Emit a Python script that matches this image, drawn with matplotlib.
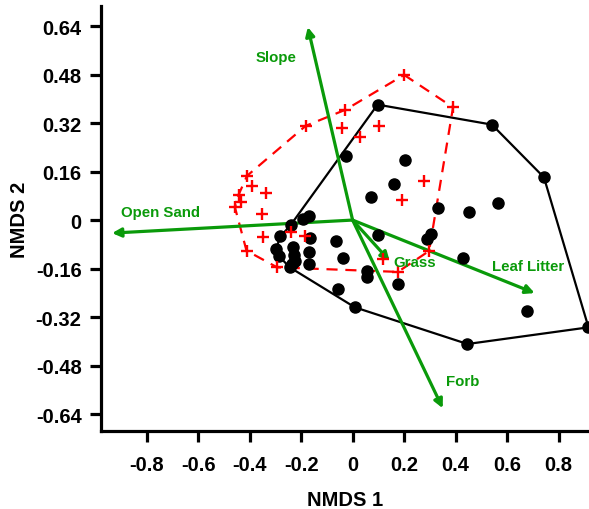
import numpy as np
import matplotlib
matplotlib.use('Agg')
import matplotlib.pyplot as plt

plt.rcParams['font.family'] = ['Liberation Sans', 'DejaVu Sans']
plt.rcParams['font.weight'] = 'bold'

# Gruppe 1 (schwarze Punkte)
grp1_x = [0.097, -0.026, 0.202, 0.161, 0.073, 0.332, 0.452, 0.566, 0.541, 0.743,
          -0.169, -0.194, -0.241, -0.280, -0.166, -0.065, 0.099, 0.306, 0.290, -0.298,
          -0.233, -0.228, -0.169, -0.285, -0.224, -0.039, -0.169, -0.237, -0.244, 0.429,
          0.054, 0.054, 0.178, -0.056, 0.009, 0.678, 0.446, 0.916]
grp1_y = [0.381, 0.212, 0.199, 0.119, 0.077, 0.039, 0.025, 0.055, 0.315, 0.141,
          0.014, 0.003, -0.017, -0.054, -0.060, -0.069, -0.048, -0.046, -0.061, -0.096,
          -0.090, -0.116, -0.105, -0.120, -0.134, -0.126, -0.145, -0.145, -0.156, -0.126,
          -0.167, -0.189, -0.212, -0.228, -0.288, -0.299, -0.409, -0.354]
grp1_hull = [0, 8, 9, 37, 36, 34, 28, 23, 19, 13, 12]

# Gruppe 2 (rote Kreuze)
grp2_x = [0.200, 0.390, -0.028, -0.182, -0.043, 0.102, 0.028, -0.410, -0.392, -0.336,
          -0.443, -0.435, -0.457, -0.351, 0.277, 0.190, -0.241, -0.347, -0.185, -0.412,
          -0.293, 0.176, 0.118, 0.297]
grp2_y = [0.479, 0.372, 0.364, 0.311, 0.304, 0.311, 0.275, 0.146, 0.111, 0.088,
          0.083, 0.060, 0.042, 0.020, 0.130, 0.066, -0.041, -0.055, -0.054, -0.101,
          -0.156, -0.171, -0.127, -0.102]
grp2_hull = [0, 1, 23, 21, 20, 19, 12, 10, 7, 3, 2]

# Umweltvektoren
env_names = ['Open Sand', 'Slope', 'Leaf Litter', 'Forb', 'Grass']
env_x = [-0.934, -0.174, 0.707, 0.350, 0.144]
env_y = [-0.043, 0.637, -0.241, -0.621, -0.135]
lab_x = [-0.747, -0.298, 0.680, 0.426, 0.241]
lab_y = [0.026, 0.538, -0.152, -0.530, -0.139]

xticks = [-0.8, -0.6, -0.4, -0.2, 0, 0.2, 0.4, 0.6, 0.8]
xtick_labels = ['-0.8', '-0.6', '-0.4', '-0.2', '0', '0.2', '0.4', '0.6', '0.8']
yticks = [-0.64, -0.48, -0.32, -0.16, 0, 0.16, 0.32, 0.48, 0.64]
ytick_labels = ['-0.64', '-0.48', '-0.32', '-0.16', '0', '0.16', '0.32', '0.48', '0.64']

green = '#0a9a0a'

fig = plt.figure(figsize=(5.89, 5.10), dpi=100)
ax = fig.add_axes([0.1715, 0.153, 0.8285, 0.833])

# Huellen
hx = np.array(grp1_x)[grp1_hull + grp1_hull[:1]]
hy = np.array(grp1_y)[grp1_hull + grp1_hull[:1]]
ax.plot(hx, hy, color='black', lw=1.6, zorder=2)

hx = np.array(grp2_x)[grp2_hull + grp2_hull[:1]]
hy = np.array(grp2_y)[grp2_hull + grp2_hull[:1]]
ax.plot(hx, hy, color='red', lw=1.6, ls=(0, (5, 3.5)), zorder=2)

# Pfeile
for name, x, y, tx, ty in zip(env_names, env_x, env_y, lab_x, lab_y):
    ax.annotate('', xy=(x, y), xytext=(0, 0),
                arrowprops=dict(arrowstyle='-|>', color=green, lw=2.3,
                                mutation_scale=13, shrinkA=0, shrinkB=0),
                zorder=3)
    ax.text(tx, ty, name, color=green, fontsize=10.8, fontweight='bold',
            ha='center', va='center', zorder=5)

ax.plot(grp1_x, grp1_y, 'o', color='black', ms=8, zorder=4)
ax.plot(grp2_x, grp2_y, '+', color='red', ms=9, mew=1.7, zorder=4)

ax.set_xlim(-0.977, 0.918)
ax.set_ylim(-0.696, 0.706)
ax.set_xticks(xticks)
ax.set_xticklabels(xtick_labels)
ax.set_yticks(yticks)
ax.set_yticklabels(ytick_labels)

ax.spines['top'].set_visible(False)
ax.spines['right'].set_visible(False)
for s in ['left', 'bottom']:
    ax.spines[s].set_linewidth(2.3)
ax.tick_params(direction='out', length=8, width=2.3, labelsize=14.5)
ax.tick_params(axis='x', pad=9)
ax.tick_params(axis='y', pad=6)

ax.set_xlabel('NMDS 1', fontsize=14.5, fontweight='bold', labelpad=12)
ax.set_ylabel('NMDS 2', fontsize=14.5, fontweight='bold', labelpad=5)

plt.savefig('out.png', dpi=100)
